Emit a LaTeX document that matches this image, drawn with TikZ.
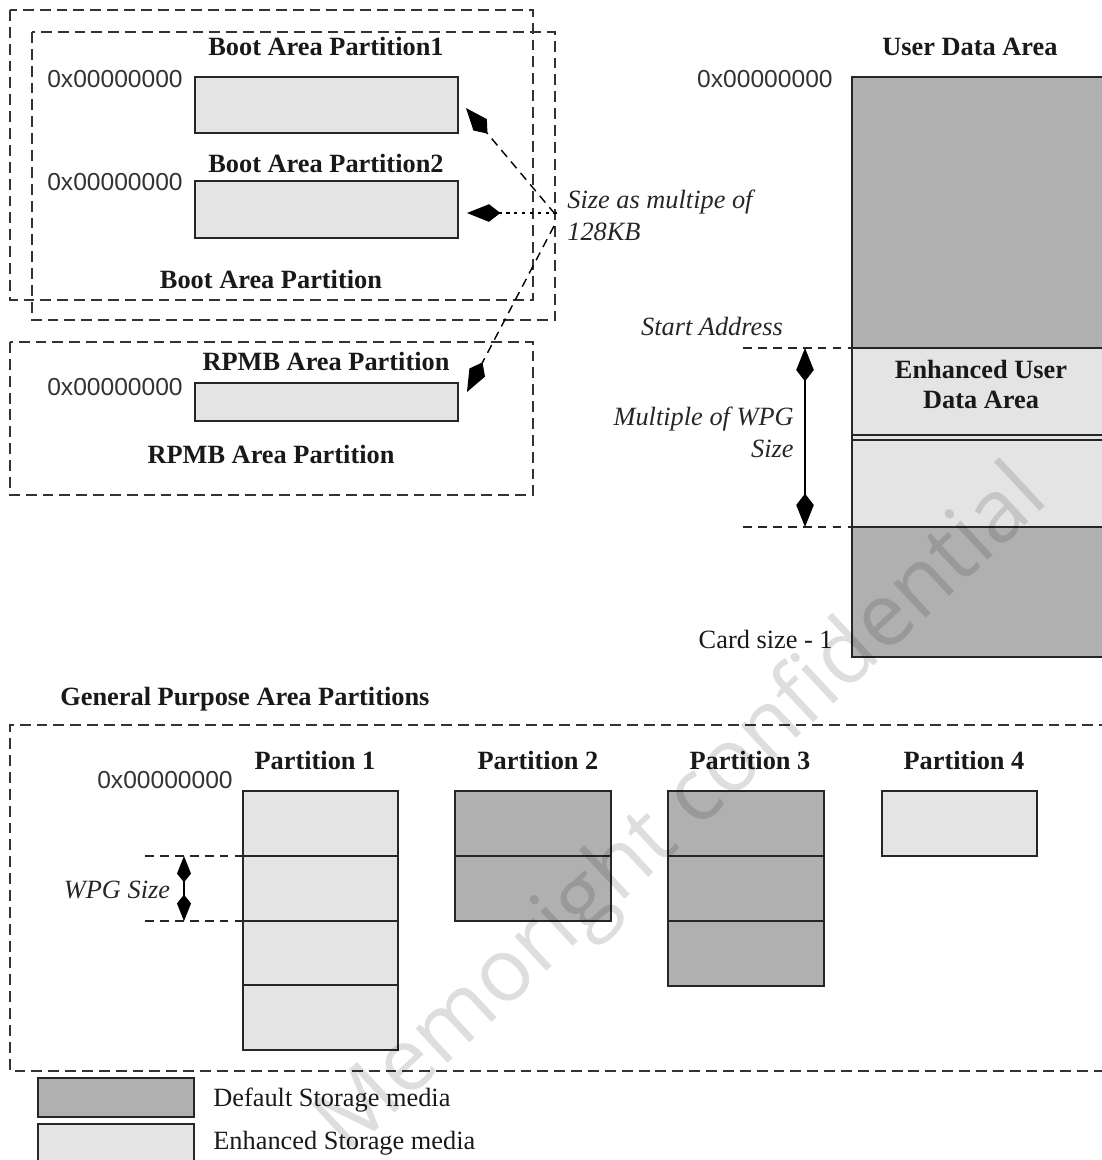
\documentclass[tikz,border=0pt]{standalone}
\usepackage{fontspec}
\setmainfont{Liberation Serif}
\newfontfamily\hexfont{Liberation Sans}
\newfontfamily\wmfont{Open Sans}
\usetikzlibrary{arrows.meta}
\definecolor{darkfill}{RGB}{176,176,176}
\definecolor{lightfill}{RGB}{228,228,228}
\begin{document}
\begin{tikzpicture}[x=0.02cm,y=-0.02cm,
  boxline/.style={draw=black!85, line width=1.1pt},
  darkbox/.style={boxline, fill=darkfill},
  lightbox/.style={boxline, fill=lightfill},
  dashbox/.style={draw=black!80, line width=0.85pt, dash pattern=on 6.2pt off 3.4pt},
  guide/.style={draw=black!85, line width=0.8pt, dash pattern=on 5pt off 3.5pt},
  bold/.style={font=\fontsize{15}{18}\selectfont\bfseries, inner sep=0pt, anchor=base, text=black!90},
  plain/.style={font=\fontsize{15}{18}\selectfont, inner sep=0pt, anchor=base, text=black!90},
  ital/.style={font=\fontsize{15}{18}\selectfont\itshape, inner sep=0pt, anchor=base, text=black!85},
  hex/.style={font=\hexfont\fontsize{14}{17}\selectfont, inner sep=0pt, anchor=base, text=black!80},
  kite/.tip={Kite[length=19pt,width=10pt,inset=6.5pt]},
  smallkite/.tip={Kite[length=15pt,width=8pt,inset=5pt]},
  dblarrow/.style={draw=black, line width=1pt, {kite}-{kite}},
  sizearrow/.style={draw=black, line width=0.8pt, -{kite}}
]
\useasboundingbox (0,0) rectangle (1102,1160);
\clip (0,0) rectangle (1102,1160);

% ---------------- Boot area ----------------
\draw[dashbox] (10,10) rectangle (533,300);
\draw[dashbox] (32,32) rectangle (555,320);
\draw[lightbox] (195,77) rectangle (458,133);
\draw[lightbox] (195,181) rectangle (458,238);
\node[bold] (bp1) at (326,55) {Boot Area Partition1};
\node[bold] (bp2) at (326,172) {Boot Area Partition2};
\node[bold] (bpa) at (271,288) {Boot Area Partition};
\node[hex] (hex1) at (115,87) {0x00000000};
\node[hex] (hex2) at (115,190) {0x00000000};

% ---------------- RPMB area ----------------
\draw[dashbox] (10,342) rectangle (533,495);
\draw[lightbox] (195,383) rectangle (458,421);
\node[bold] (rp1) at (326,370) {RPMB Area Partition};
\node[bold] (rp2) at (271,463) {RPMB Area Partition};
\node[hex] (hex3) at (115,395) {0x00000000};

% ---------------- size arrows ----------------
\coordinate (srcA) at (555,214);
\coordinate (srcB) at (557,213);
\coordinate (srcC) at (554,226);
\coordinate (tipA) at (466,108);
\coordinate (tipB) at (467,213);
\coordinate (tipC) at (467,392);
\draw[sizearrow, dash pattern=on 5pt off 3.5pt] (srcA) -- (tipA);
\draw[sizearrow, dash pattern=on 2pt off 2.5pt] (srcB) -- (tipB);
\draw[sizearrow, dash pattern=on 5pt off 3.5pt] (srcC) -- (tipC);
\node[ital, anchor=base west] (sz1) at (567,208) {Size as multipe of};
\node[ital, anchor=base west] (sz2) at (567,240) {128KB};

% ---------------- User data area ----------------
\fill[darkfill] (852,77) rectangle (1110,348);
\fill[lightfill] (852,348) rectangle (1110,527);
\fill[darkfill] (852,527) rectangle (1110,657);
\draw[boxline] (1110,77) -- (852,77) -- (852,657) -- (1110,657);
\draw[boxline] (852,348) -- (1110,348);
\draw[boxline] (852,435) -- (1110,435);
\draw[boxline] (852,440) -- (1110,440);
\draw[boxline] (852,527) -- (1110,527);
\node[bold] (uda) at (970,55) {User Data Area};
\node[hex, anchor=base east] (hex4) at (833,87) {0x00000000};
\node[bold] (eu1) at (981,378) {Enhanced User};
\node[bold] (eu2) at (981,408) {Data Area};
\node[ital] (sa) at (712,335) {Start Address};
\coordinate (g1a) at (743,348);
\coordinate (g1b) at (852,348);
\coordinate (g2a) at (743,527);
\coordinate (g2b) at (852,527);
\draw[guide] (g1a) -- (g1b);
\draw[guide] (g2a) -- (g2b);
\coordinate (wa) at (805,348);
\coordinate (wb) at (805,527);
\draw[dblarrow] (wa) -- (wb);
\node[ital, anchor=base east] (mw1) at (794,425) {Multiple of WPG};
\node[ital, anchor=base east] (mw2) at (794,457) {Size};
\node[plain, anchor=base east] (cs) at (833,648) {Card size - 1};

% ---------------- General purpose partitions ----------------
\node[bold, anchor=base west] (gp) at (60,705) {General Purpose Area Partitions};
\draw[dashbox] (1110,725) -- (10,725) -- (10,1071) -- (1110,1071);
\node[bold] (p1) at (315,769) {Partition 1};
\node[bold] (p2) at (538,769) {Partition 2};
\node[bold] (p3) at (750,769) {Partition 3};
\node[bold] (p4) at (964,769) {Partition 4};
\node[hex] (hex5) at (165,788) {0x00000000};

\draw[lightbox] (243,791) rectangle (398,1050);
\draw[boxline] (243,856) -- (398,856);
\draw[boxline] (243,921) -- (398,921);
\draw[boxline] (243,985) -- (398,985);

\draw[darkbox] (455,791) rectangle (611,921);
\draw[boxline] (455,856) -- (611,856);

\draw[darkbox] (668,791) rectangle (824,986);
\draw[boxline] (668,856) -- (824,856);
\draw[boxline] (668,921) -- (824,921);

\draw[lightbox] (882,791) rectangle (1037,856);

\coordinate (h1a) at (145,856);
\coordinate (h1b) at (243,856);
\coordinate (h2a) at (145,921);
\coordinate (h2b) at (243,921);
\draw[guide] (h1a) -- (h1b);
\draw[guide] (h2a) -- (h2b);
\coordinate (sa1) at (184,856);
\coordinate (sa2) at (184,921);
\draw[draw=black, line width=0.9pt, {smallkite}-{smallkite}] (sa1) -- (sa2);
\node[ital] (wpg) at (117,898) {WPG Size};

% ---------------- legend ----------------
\draw[darkbox] (38,1078) rectangle (194,1117);
\draw[lightbox] (38,1124) rectangle (194,1175);
\node[plain, anchor=base west] (lg1) at (213,1106) {Default Storage media};
\node[plain, anchor=base west] (lg2) at (213,1149) {Enhanced Storage media};

% ---------------- watermark ----------------
\node[font=\wmfont\fontsize{50}{50}\selectfont, text=black, opacity=0.13, rotate=43, inner sep=0pt] (wm) at (684,812) {Memoright confidential};
\end{tikzpicture}
\end{document}
